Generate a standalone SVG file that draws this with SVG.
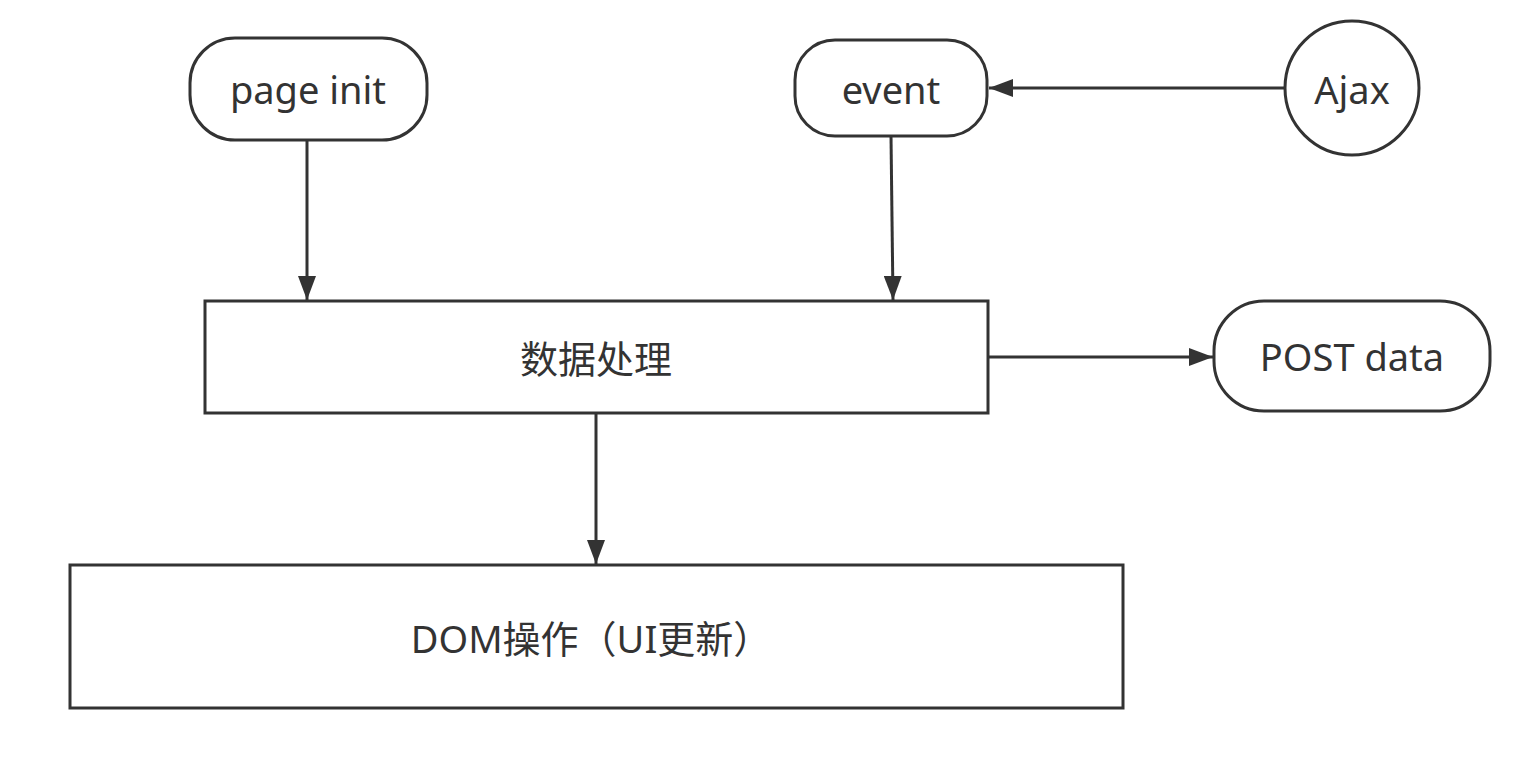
<svg xmlns="http://www.w3.org/2000/svg" width="1520" height="764" viewBox="0 0 1520 764">
<style>
.n{fill:#fff;stroke:#333;stroke-width:3}
.t{font-family:"Noto Sans","Noto Sans CJK SC",sans-serif;font-size:38px;fill:#333;text-anchor:middle;dominant-baseline:central}
.c{stroke:#333;stroke-width:3;fill:none;marker-end:url(#a)}
</style>
<defs>
<marker id="a" markerWidth="8" markerHeight="6" refX="8" refY="3" orient="auto" markerUnits="strokeWidth" viewBox="0 0 8 6">
<path d="M0,0 L8,3 L0,6 Z" fill="#333"/>
</marker>
</defs>
<rect width="1520" height="764" fill="#fff"/>
<g id="connectors">
<line class="c" x1="307" y1="140" x2="307" y2="300"/>
<line class="c" x1="891" y1="136" x2="893" y2="300"/>
<line class="c" x1="1285" y1="88" x2="989" y2="88"/>
<line class="c" x1="988" y1="357" x2="1213" y2="357"/>
<line class="c" x1="596" y1="413" x2="596" y2="564"/>
</g>
<g id="page-init">
<rect class="n" x="190" y="38" width="237" height="102" rx="45"/>
<text class="t" x="308" y="89">page init</text>
</g>
<g id="event">
<rect class="n" x="795" y="40" width="192" height="96" rx="40"/>
<text class="t" x="891" y="89">event</text>
</g>
<g id="ajax">
<ellipse class="n" cx="1352" cy="88" rx="67" ry="67"/>
<text class="t" x="1352" y="89">Ajax</text>
</g>
<g id="data-processing">
<rect class="n" x="205" y="301" width="783" height="112"/>
<text class="t" x="596" y="358">数据处理</text>
</g>
<g id="post-data">
<rect class="n" x="1214" y="301" width="276" height="110" rx="50"/>
<text class="t" x="1352" y="356">POST data</text>
</g>
<g id="dom">
<rect class="n" x="70" y="565" width="1053" height="143"/>
<text class="t" x="591" y="638">DOM操作（UI更新）</text>
</g>
</svg>
